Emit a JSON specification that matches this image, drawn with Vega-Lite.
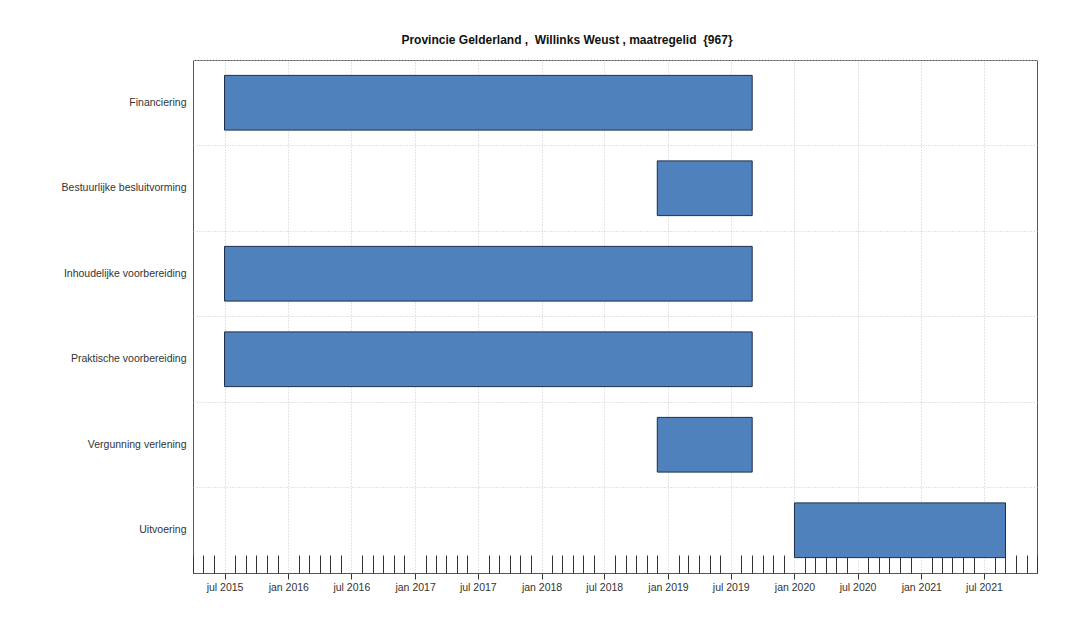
{
  "$schema": "https://vega.github.io/schema/vega-lite/v6.json",
  "width": 844,
  "height": 513,
  "autosize": {"type": "none"},
  "padding": {"left": 193, "top": 60, "right": 49, "bottom": 52},
  "background": "white",
  "title": {
    "text": "Provincie Gelderland ,\u00a0 Willinks Weust , maatregelid\u00a0 {967}",
    "anchor": "middle",
    "dx": -48,
    "offset": 13,
    "font": "Liberation Sans",
    "fontSize": 12,
    "fontWeight": "bold",
    "color": "#111"
  },
  "config": {
    "view": {"stroke": "#555", "strokeWidth": 1},
    "font": "Liberation Sans"
  },
  "data": {
    "values": [
      {"taak": "Financiering", "start": "2015-07-01", "eind": "2019-09-01"},
      {"taak": "Bestuurlijke besluitvorming", "start": "2018-12-01", "eind": "2019-09-01"},
      {"taak": "Inhoudelijke voorbereiding", "start": "2015-07-01", "eind": "2019-09-01"},
      {"taak": "Praktische voorbereiding", "start": "2015-07-01", "eind": "2019-09-01"},
      {"taak": "Vergunning verlening", "start": "2018-12-01", "eind": "2019-09-01"},
      {"taak": "Uitvoering", "start": "2020-01-01", "eind": "2021-09-01"}
    ]
  },
  "encoding": {
    "y": {
      "field": "taak",
      "type": "nominal",
      "sort": null,
      "title": null,
      "scale": {"paddingInner": 0.36, "paddingOuter": 0.18},
      "axis": {
        "ticks": false,
        "domain": false,
        "labelFontSize": 10.5,
        "labelColor": "#333",
        "labelPadding": 7,
        "grid": true,
        "bandPosition": -0.28125,
        "gridDash": [1, 2],
        "gridColor": "#c8c8c8",
        "gridWidth": 1
      }
    }
  },
  "layer": [
    {
      "mark": {"type": "bar", "fill": "#4f81bd", "strokeWidth": 0},
      "encoding": {
        "x": {
          "field": "start",
          "type": "temporal",
          "title": null,
          "scale": {"domain": [{"year": 2015, "month": 4, "date": 1}, {"year": 2021, "month": 12, "date": 1}]},
          "axis": {
            "orient": "bottom",
            "values": [
              {"year": 2015, "month": 7, "date": 1},
              {"year": 2016, "month": 1, "date": 1},
              {"year": 2016, "month": 7, "date": 1},
              {"year": 2017, "month": 1, "date": 1},
              {"year": 2017, "month": 7, "date": 1},
              {"year": 2018, "month": 1, "date": 1},
              {"year": 2018, "month": 7, "date": 1},
              {"year": 2019, "month": 1, "date": 1},
              {"year": 2019, "month": 7, "date": 1},
              {"year": 2020, "month": 1, "date": 1},
              {"year": 2020, "month": 7, "date": 1},
              {"year": 2021, "month": 1, "date": 1},
              {"year": 2021, "month": 7, "date": 1}
            ],
            "labelExpr": "lower(timeFormat(datum.value, '%b %Y'))",
            "labelFontSize": 10.5,
            "labelColor": "#333",
            "labelPadding": 3,
            "labelFlush": false,
            "labelOverlap": false,
            "tickSize": 6,
            "tickColor": "#333",
            "domain": false,
            "grid": true,
            "gridDash": [1, 2],
            "gridColor": "#c8c8c8"
          }
        },
        "x2": {"field": "eind"}
      }
    },
    {
      "mark": {"type": "bar", "fillOpacity": 0, "stroke": "#1c2e4a", "strokeWidth": 1},
      "encoding": {
        "x": {
          "field": "start",
          "type": "temporal",
          "title": null,
          "axis": {
            "orient": "bottom",
            "tickCount": {"interval": "month", "step": 1},
            "labels": false,
            "grid": false,
            "domain": false,
            "tickSize": -18,
            "tickColor": "#333",
            "tickOpacity": {"condition": {"test": "month(datum.value) % 6 === 0", "value": 0}, "value": 1}
          }
        },
        "x2": {"field": "eind"}
      }
    }
  ],
  "resolve": {"axis": {"x": "independent"}}
}
